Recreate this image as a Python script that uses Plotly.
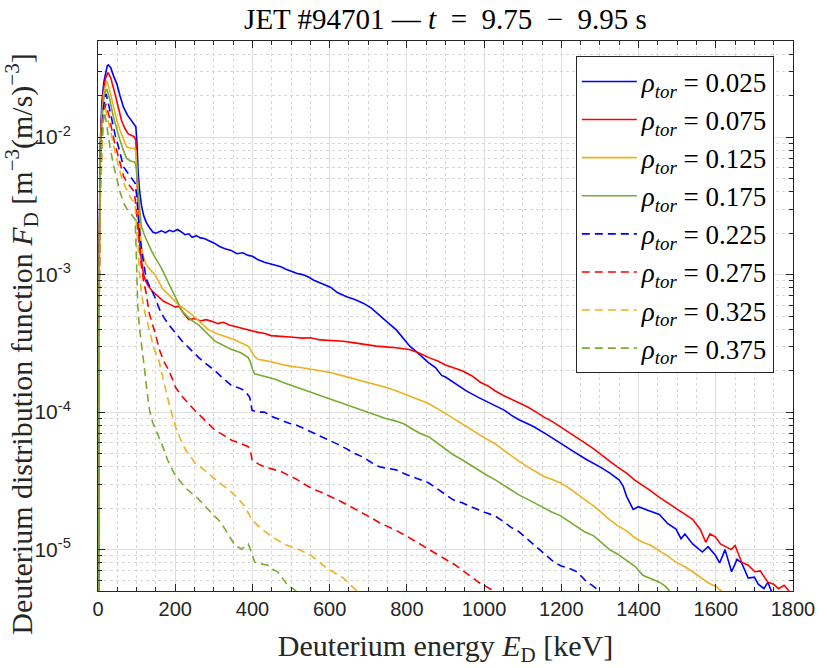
import plotly.graph_objects as go

# ---------------- data ----------------
rho_labels = ["0.025", "0.075", "0.125", "0.175", "0.225", "0.275", "0.325", "0.375"]

E_025 = [0, 3, 6, 10, 15, 19, 24, 27, 33, 40, 49, 57, 66, 76, 87, 98, 101, 104, 108, 112.5, 118, 125, 133, 142, 150, 164, 175, 185, 195, 206, 215, 225, 235, 244, 255, 265, 275, 286, 300, 315, 329, 345, 360, 375, 389, 400, 415, 431, 445, 460, 474, 485, 500, 516, 530, 545, 559, 575, 590, 602, 620, 644, 665, 687, 708, 729, 750, 772, 793, 808, 823, 840, 855, 874, 890, 900, 926, 955, 985, 1020, 1053, 1070, 1090, 1110, 1130, 1165, 1198, 1230, 1266, 1300, 1326, 1350, 1360, 1369, 1386, 1400, 1420, 1440, 1454, 1475, 1497, 1510, 1520, 1540, 1565, 1580, 1599, 1610, 1624, 1641, 1655, 1667, 1684, 1700, 1710, 1725, 1735, 1750]
F_025 = [1e-7, 1.5e-3, 9e-3, 0.018, 0.025, 0.0288, 0.033, 0.0335, 0.032, 0.028, 0.0243, 0.020, 0.0165, 0.0145, 0.0132, 0.0119, 0.009, 5.5e-3, 4.0e-3, 3.2e-3, 2.7e-3, 2.4e-3, 2.2e-3, 2.04e-3, 2.0e-3, 2.08e-3, 2.02e-3, 2.1e-3, 2.05e-3, 2.13e-3, 2.05e-3, 1.95e-3, 1.98e-3, 1.87e-3, 1.92e-3, 1.85e-3, 1.83e-3, 1.77e-3, 1.7e-3, 1.6e-3, 1.54e-3, 1.5e-3, 1.42e-3, 1.44e-3, 1.38e-3, 1.36e-3, 1.28e-3, 1.23e-3, 1.2e-3, 1.18e-3, 1.14e-3, 1.1e-3, 1.06e-3, 1.02e-3, 1.0e-3, 9.6e-4, 9.1e-4, 8.7e-4, 8.4e-4, 8.1e-4, 7.4e-4, 6.9e-4, 6.6e-4, 6.2e-4, 5.7e-4, 5.1e-4, 4.5e-4, 3.98e-4, 3.35e-4, 3.0e-4, 2.78e-4, 2.5e-4, 2.3e-4, 2.11e-4, 1.85e-4, 1.8e-4, 1.6e-4, 1.42e-4, 1.28e-4, 1.15e-4, 1.03e-4, 9.5e-5, 8.8e-5, 8.3e-5, 7.8e-5, 6.8e-5, 5.9e-5, 5.2e-5, 4.5e-5, 4.0e-5, 3.6e-5, 3.2e-5, 2.9e-5, 2.44e-5, 1.96e-5, 2.05e-5, 1.95e-5, 1.85e-5, 1.8e-5, 1.55e-5, 1.41e-5, 1.2e-5, 1.3e-5, 1.1e-5, 9.6e-6, 1.05e-5, 9.1e-6, 8.0e-6, 1.0e-5, 6.9e-6, 8.5e-6, 8.0e-6, 6.2e-6, 6.3e-6, 5.6e-6, 5.2e-6, 5.8e-6, 4.5e-6]

E_075 = [0, 3, 6, 10, 15, 20, 26, 33, 44, 52, 61, 70, 78, 86, 94, 98, 101, 104, 107, 112, 118, 122, 129, 140, 150, 158, 170, 185, 201, 210, 220, 235, 250, 265, 280, 295, 310, 325, 340, 355, 370, 385, 397, 415, 430, 448, 465, 485, 505, 530, 551, 575, 600, 620, 636, 660, 690, 721, 745, 772, 806, 830, 857, 880, 900, 920, 943, 968, 990, 1010, 1028, 1050, 1070, 1090, 1113, 1135, 1155, 1175, 1198, 1220, 1240, 1260, 1284, 1305, 1325, 1345, 1369, 1390, 1410, 1430, 1454, 1475, 1495, 1515, 1540, 1560, 1574, 1585, 1599, 1612, 1624, 1640, 1650, 1667, 1684, 1701, 1715, 1735, 1750, 1762, 1777, 1790]
F_075 = [1e-7, 1.2e-3, 8e-3, 0.016, 0.023, 0.027, 0.0295, 0.027, 0.0206, 0.0165, 0.0132, 0.0115, 0.0106, 0.0103, 0.01005, 0.0095, 0.006, 3.2e-3, 1.8e-3, 1.3e-3, 1.0e-3, 9.2e-4, 8.4e-4, 7.6e-4, 7.2e-4, 6.9e-4, 6.4e-4, 6.1e-4, 5.8e-4, 5.9e-4, 5.3e-4, 4.7e-4, 4.8e-4, 4.6e-4, 4.7e-4, 4.57e-4, 4.4e-4, 4.5e-4, 4.3e-4, 4.2e-4, 4.1e-4, 4.0e-4, 3.9e-4, 3.8e-4, 3.75e-4, 3.6e-4, 3.57e-4, 3.55e-4, 3.5e-4, 3.45e-4, 3.47e-4, 3.35e-4, 3.32e-4, 3.3e-4, 3.28e-4, 3.2e-4, 3.1e-4, 3.02e-4, 2.98e-4, 2.94e-4, 2.85e-4, 2.7e-4, 2.49e-4, 2.35e-4, 2.2e-4, 2.1e-4, 2.0e-4, 1.84e-4, 1.65e-4, 1.55e-4, 1.43e-4, 1.32e-4, 1.24e-4, 1.17e-4, 1.09e-4, 1.0e-4, 9.2e-5, 8.6e-5, 7.8e-5, 7.2e-5, 6.6e-5, 6.0e-5, 5.4e-5, 4.9e-5, 4.4e-5, 4.0e-5, 3.6e-5, 3.2e-5, 2.95e-5, 2.7e-5, 2.4e-5, 2.2e-5, 2.0e-5, 1.85e-5, 1.66e-5, 1.4e-5, 1.13e-5, 1.3e-5, 1.24e-5, 1.1e-5, 1.05e-5, 1.0e-5, 1.07e-5, 8.1e-6, 7.7e-6, 6.9e-6, 7.0e-6, 5.8e-6, 5.6e-6, 5.2e-6, 5.5e-6, 5.0e-6]

E_125 = [0, 3, 6, 10, 15, 19, 23, 30, 40, 48, 57, 66, 74, 84, 94, 98, 101, 104, 108, 112, 118, 124, 133, 148, 167, 190, 210, 225, 244, 265, 286, 305, 329, 355, 380, 390, 397, 405, 414, 440, 474, 500, 525, 550, 575, 602, 630, 660, 687, 715, 747, 772, 793, 815, 835, 857, 880, 900, 920, 943, 965, 985, 1005, 1028, 1050, 1070, 1090, 1113, 1135, 1155, 1175, 1198, 1220, 1240, 1260, 1284, 1305, 1325, 1345, 1369, 1390, 1411, 1430, 1454, 1475, 1497, 1520, 1540, 1560, 1582, 1600, 1615, 1630]
F_125 = [1e-7, 1e-3, 7e-3, 0.014, 0.021, 0.024, 0.0257, 0.022, 0.0165, 0.0135, 0.0112, 9.5e-3, 8.5e-3, 8.3e-3, 8.3e-3, 8.0e-3, 5.5e-3, 3.5e-3, 2.2e-3, 1.63e-3, 1.35e-3, 1.2e-3, 1.1e-3, 1.0e-3, 7.9e-4, 6.8e-4, 6.0e-4, 5.6e-4, 5.1e-4, 4.5e-4, 3.98e-4, 3.75e-4, 3.56e-4, 3.35e-4, 3.1e-4, 3.0e-4, 2.78e-4, 2.55e-4, 2.42e-4, 2.35e-4, 2.23e-4, 2.15e-4, 2.11e-4, 2.05e-4, 1.98e-4, 1.94e-4, 1.85e-4, 1.76e-4, 1.69e-4, 1.6e-4, 1.51e-4, 1.43e-4, 1.36e-4, 1.28e-4, 1.22e-4, 1.15e-4, 1.06e-4, 9.8e-5, 9.0e-5, 8.2e-5, 7.6e-5, 7.0e-5, 6.4e-5, 5.9e-5, 5.3e-5, 4.8e-5, 4.4e-5, 4.0e-5, 3.7e-5, 3.4e-5, 3.25e-5, 3.05e-5, 2.8e-5, 2.55e-5, 2.3e-5, 2.07e-5, 1.85e-5, 1.65e-5, 1.5e-5, 1.37e-5, 1.22e-5, 1.13e-5, 1.08e-5, 9.8e-6, 9.0e-6, 8.1e-6, 7.5e-6, 6.9e-6, 6.3e-6, 5.7e-6, 5.4e-6, 5.0e-6, 4.5e-6]

E_175 = [0, 3, 6, 10, 15, 19, 23, 30, 40, 48, 57, 66, 74, 84, 94, 98, 101, 104, 108, 112, 120, 129, 138, 150, 164, 176, 185, 200, 218, 240, 261, 280, 303, 325, 346, 370, 389, 395, 400, 406, 430, 457, 485, 516, 545, 575, 602, 630, 660, 687, 715, 747, 772, 793, 815, 835, 857, 880, 900, 920, 943, 965, 985, 1005, 1028, 1050, 1070, 1090, 1113, 1135, 1155, 1175, 1198, 1220, 1240, 1260, 1284, 1305, 1325, 1345, 1369, 1390, 1411, 1430, 1454, 1470, 1480, 1490]
F_175 = [1e-7, 9e-4, 6e-3, 0.013, 0.019, 0.0215, 0.0224, 0.019, 0.014, 0.0115, 9.5e-3, 8.0e-3, 7.0e-3, 6.7e-3, 6.6e-3, 6.3e-3, 5.0e-3, 3.8e-3, 2.8e-3, 2.26e-3, 1.95e-3, 1.7e-3, 1.5e-3, 1.3e-3, 1.12e-3, 9.5e-4, 8.4e-4, 6.8e-4, 5.4e-4, 4.7e-4, 4.3e-4, 3.8e-4, 3.28e-4, 3.05e-4, 2.85e-4, 2.7e-4, 2.49e-4, 2.3e-4, 2.05e-4, 1.9e-4, 1.82e-4, 1.74e-4, 1.62e-4, 1.51e-4, 1.42e-4, 1.33e-4, 1.25e-4, 1.17e-4, 1.1e-4, 1.03e-4, 9.6e-5, 8.95e-5, 8.6e-5, 8.2e-5, 7.5e-5, 7.0e-5, 6.6e-5, 5.9e-5, 5.4e-5, 4.9e-5, 4.5e-5, 4.1e-5, 3.8e-5, 3.5e-5, 3.23e-5, 2.95e-5, 2.7e-5, 2.5e-5, 2.32e-5, 2.15e-5, 2.0e-5, 1.88e-5, 1.76e-5, 1.6e-5, 1.45e-5, 1.35e-5, 1.26e-5, 1.12e-5, 1.0e-5, 9.3e-6, 8.4e-6, 7.6e-6, 6.5e-6, 6.2e-6, 5.8e-6, 5.4e-6, 5.0e-6, 4.5e-6]

E_225 = [0, 3, 6, 10, 15, 21, 28, 36, 44, 53, 60, 66, 75, 83, 90, 96, 100, 104, 108, 112.5, 118, 125, 133, 147, 158, 170, 184, 200, 218, 240, 261, 282, 303, 325, 346, 365, 380, 393, 399, 415, 431, 450, 474, 495, 516, 538, 559, 580, 602, 623, 644, 665, 687, 708, 729, 755, 772, 800, 830, 857, 880, 900, 920, 943, 965, 985, 1005, 1028, 1050, 1070, 1090, 1113, 1135, 1160, 1181, 1200, 1220, 1241, 1255, 1266, 1280, 1300, 1315]
F_225 = [1e-7, 8e-4, 5e-3, 0.011, 0.017, 0.0206, 0.017, 0.0132, 0.0105, 8.5e-3, 7.0e-3, 6.1e-3, 5.6e-3, 5.2e-3, 4.9e-3, 4.64e-3, 3.8e-3, 2.67e-3, 2.0e-3, 1.54e-3, 1.2e-3, 9.3e-4, 8.3e-4, 6.9e-4, 5.7e-4, 4.9e-4, 4.3e-4, 3.75e-4, 3.28e-4, 2.85e-4, 2.49e-4, 2.22e-4, 2.0e-4, 1.75e-4, 1.56e-4, 1.5e-4, 1.43e-4, 1.28e-4, 1.03e-4, 1.0e-4, 1.0e-4, 9.3e-5, 8.7e-5, 8.3e-5, 8.0e-5, 7.5e-5, 7.0e-5, 6.6e-5, 6.25e-5, 5.8e-5, 5.4e-5, 5.0e-5, 4.7e-5, 4.3e-5, 4.0e-5, 3.85e-5, 3.8e-5, 3.5e-5, 3.25e-5, 3.05e-5, 2.75e-5, 2.5e-5, 2.3e-5, 2.19e-5, 2.05e-5, 1.95e-5, 1.85e-5, 1.76e-5, 1.6e-5, 1.45e-5, 1.35e-5, 1.19e-5, 1.05e-5, 9.2e-6, 8.1e-6, 7.6e-6, 7.3e-6, 6.9e-6, 6.2e-6, 5.8e-6, 5.5e-6, 5.0e-6, 4.6e-6]

E_275 = [0, 3, 6, 10, 15, 20, 28, 36, 44, 53, 60, 66, 75, 83, 90, 94, 97, 100, 104, 107, 112, 118, 124, 133, 141, 150, 158, 170, 184, 201, 218, 235, 252, 269, 286, 303, 325, 346, 370, 389, 395, 399, 415, 431, 452, 474, 495, 516, 538, 559, 580, 602, 623, 644, 665, 687, 708, 729, 750, 772, 798, 820, 840, 857, 880, 900, 926, 950, 970, 985, 1005, 1020, 1035]
F_275 = [1e-7, 6e-4, 4e-3, 9e-3, 0.015, 0.0175, 0.0145, 0.0112, 8.8e-3, 7.2e-3, 6.0e-3, 5.2e-3, 4.7e-3, 4.4e-3, 4.15e-3, 4.0e-3, 3.4e-3, 2.8e-3, 2.0e-3, 1.6e-3, 1.17e-3, 9.0e-4, 7.5e-4, 5.2e-4, 4.4e-4, 3.6e-4, 2.9e-4, 2.35e-4, 2.0e-4, 1.51e-4, 1.3e-4, 1.15e-4, 1.02e-4, 9.2e-5, 8.2e-5, 7.4e-5, 6.8e-5, 6.25e-5, 5.9e-5, 5.6e-5, 5.2e-5, 4.5e-5, 4.2e-5, 4.0e-5, 3.85e-5, 3.7e-5, 3.45e-5, 3.23e-5, 2.95e-5, 2.74e-5, 2.6e-5, 2.44e-5, 2.28e-5, 2.13e-5, 1.98e-5, 1.85e-5, 1.7e-5, 1.57e-5, 1.48e-5, 1.38e-5, 1.26e-5, 1.16e-5, 1.08e-5, 1.01e-5, 9.2e-6, 8.5e-6, 7.7e-6, 6.9e-6, 6.3e-6, 5.8e-6, 5.4e-6, 5.1e-6, 4.8e-6]

E_325 = [0, 3, 6, 10, 14, 19, 26, 36, 44, 53, 60, 70, 78, 87, 96, 100, 103, 107, 112, 120, 133, 145, 158, 170, 184, 201, 214, 227, 252, 275, 295, 315, 338, 360, 380, 393, 406, 425, 448, 470, 491, 520, 551, 570, 593, 615, 636, 655, 670, 685]
F_325 = [1e-7, 5e-4, 3.5e-3, 8e-3, 0.0135, 0.0161, 0.0135, 0.01, 7.8e-3, 6.1e-3, 5.2e-3, 4.4e-3, 3.9e-3, 3.52e-3, 3.33e-3, 2.14e-3, 1.8e-3, 1.05e-3, 7.5e-4, 5.5e-4, 3.9e-4, 2.9e-4, 2.35e-4, 1.65e-4, 1.15e-4, 7.8e-5, 6.3e-5, 5.3e-5, 4.25e-5, 3.8e-5, 3.4e-5, 3.05e-5, 2.73e-5, 2.4e-5, 2.07e-5, 1.76e-5, 1.57e-5, 1.4e-5, 1.26e-5, 1.15e-5, 1.07e-5, 1.0e-5, 9.1e-6, 8.2e-6, 7.3e-6, 6.7e-6, 6.2e-6, 5.5e-6, 5.0e-6, 4.6e-6]

E_375 = [0, 2, 5, 9, 13, 17, 24, 31, 40, 49, 57, 66, 75, 83, 90, 96, 98, 100, 103, 107, 112, 120, 126, 133, 141, 150, 158, 168, 180, 197, 214, 227, 244, 261, 282, 303, 316, 329, 342, 355, 372, 389, 397, 406, 420, 440, 452, 465, 478, 491, 505, 520]
F_375 = [1e-7, 5e-4, 4e-3, 9e-3, 0.013, 0.0152, 0.0115, 8.5e-3, 6.3e-3, 4.9e-3, 4.0e-3, 3.33e-3, 3.0e-3, 2.82e-3, 2.65e-3, 2.53e-3, 1.8e-3, 1.2e-3, 6.0e-4, 4.2e-4, 3.3e-4, 2.11e-4, 1.5e-4, 1.05e-4, 8.5e-5, 7.4e-5, 6.6e-5, 5.6e-5, 4.5e-5, 3.6e-5, 3.1e-5, 2.8e-5, 2.55e-5, 2.32e-5, 2.0e-5, 1.76e-5, 1.6e-5, 1.41e-5, 1.22e-5, 1.07e-5, 1.01e-5, 1.1e-5, 9.6e-6, 8.1e-6, 7.9e-6, 7.7e-6, 7.2e-6, 6.9e-6, 6.2e-6, 5.5e-6, 5.2e-6, 4.8e-6]

x_ticks = [0, 200, 400, 600, 800, 1000, 1200, 1400, 1600, 1800]
y_ticks = [1e-5, 1e-4, 1e-3, 1e-2]
y_ticktext = ["10<sup>-5</sup>", "10<sup>-4</sup>", "10<sup>-3</sup>", "10<sup>-2</sup>"]

# ---------------- styling ----------------
series = [
    (E_025, F_025, "#0000FF", "solid"),
    (E_075, F_075, "#FF0000", "solid"),
    (E_125, F_125, "#EDB120", "solid"),
    (E_175, F_175, "#77AC30", "solid"),
    (E_225, F_225, "#0000FF", "8px,5px"),
    (E_275, F_275, "#FF0000", "8px,5px"),
    (E_325, F_325, "#EDB120", "8px,5px"),
    (E_375, F_375, "#77AC30", "8px,5px"),
]

SERIF = "Liberation Serif"
SANS = "Liberation Sans"
AX = "#262626"
NB = "\u00a0"

fig = go.Figure()
for (E, F, col, dash), lab in zip(series, rho_labels):
    fig.add_trace(go.Scatter(
        x=E, y=F, mode="lines",
        line=dict(color=col, width=1.6, dash=dash),
        name=f"<i>ρ</i><sub><i>tor</i></sub>{NB}={NB}{lab}",
        legendgroup=lab,
    ))

minor_y = [m * 10.0 ** e for e in range(-6, -1) for m in range(2, 10)]

fig.update_layout(
    width=827, height=668,
    margin=dict(l=98, r=25, t=41, b=73),
    paper_bgcolor="white", plot_bgcolor="white",
    font=dict(family=SERIF),
    title=dict(text=f"JET #94701 — <i>t</i>{NB}{NB}={NB}{NB}9.75{NB}{NB}−{NB}{NB}9.95 s",
               x=0.5, xref="paper", xanchor="center",
               y=1 - 19 / 668, yref="container", yanchor="middle",
               font=dict(family=SERIF, size=29, color="black")),
    showlegend=True,
    legend=dict(x=(582 - 98) / 704, y=0.972, xanchor="left", yanchor="top",
                bgcolor="white", bordercolor=AX, borderwidth=1,
                font=dict(family=SERIF, size=27, color="black"),
                tracegroupgap=0, itemwidth=55,
                traceorder="grouped"),
    xaxis=dict(range=[0, 1800], tickvals=x_ticks,
               ticks="inside", ticklen=7, tickcolor=AX, tickwidth=1,
               showline=True, linecolor=AX, linewidth=1, mirror="ticks",
               showgrid=True, gridcolor="#dedede", gridwidth=1,
               zeroline=False,
               tickfont=dict(family=SANS, size=20, color=AX),
               minor=dict(dtick=50, ticks="inside", ticklen=4, tickcolor=AX,
                          showgrid=True, gridcolor="#d8d8d8", griddash="dot", gridwidth=1),
               title=dict(text="Deuterium energy <i>E</i><sub>D</sub> [keV]",
                          font=dict(family=SERIF, size=30, color=AX), standoff=15)),
    yaxis=dict(type="log", range=[-5.30103, -1.30103],
               tickvals=y_ticks, ticktext=y_ticktext,
               ticks="inside", ticklen=7, tickcolor=AX, tickwidth=1,
               showline=True, linecolor=AX, linewidth=1, mirror="ticks",
               showgrid=True, gridcolor="#dedede", gridwidth=1,
               zeroline=False, ticklabelstandoff=22,
               tickfont=dict(family=SANS, size=21, color=AX),
               minor=dict(tickvals=minor_y, ticks="inside", ticklen=4, tickcolor=AX,
                          showgrid=True, gridcolor="#d8d8d8", griddash="dot", gridwidth=1)),
)

fig.add_annotation(
    text="Deuterium distribution function <i>F</i><sub>D</sub> [m<sup>−3</sup>(m/s)<sup>−3</sup>]",
    xref="paper", yref="paper", x=(21 - 98) / 704, y=1 - (346 - 41) / 554,
    xanchor="center", yanchor="middle", textangle=-90, showarrow=False,
    font=dict(family=SERIF, size=30, color=AX),
)

fig.write_html("out.html")
